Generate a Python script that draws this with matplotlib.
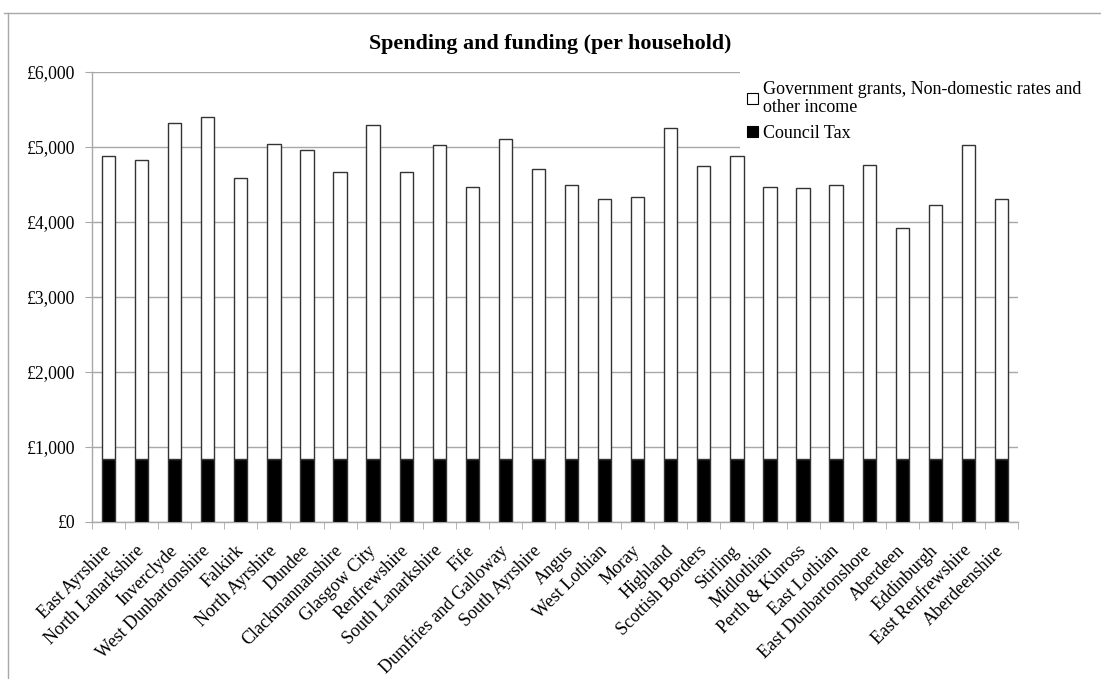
import matplotlib.pyplot as plt
from matplotlib.patches import Patch, Rectangle
from matplotlib.lines import Line2D
from matplotlib.ticker import FuncFormatter, FixedLocator

councils = ['East Ayrshire', 'North Lanarkshire', 'Inverclyde', 'West Dunbartonshire',
            'Falkirk', 'North Ayrshire', 'Dundee', 'Clackmannanshire', 'Glasgow City',
            'Renfrewshire', 'South Lanarkshire', 'Fife', 'Dumfries and Galloway',
            'South Ayrshire', 'Angus', 'West Lothian', 'Moray', 'Highland',
            'Scottish Borders', 'Stirling', 'Midlothian', 'Perth & Kinross',
            'East Lothian', 'East Dunbartonshore', 'Aberdeen', 'Eddinburgh',
            'East Renfrewshire', 'Aberdeenshire']

# total spending per household
total = [4880, 4827, 5324, 5396, 4591, 5040, 4960, 4662, 5293, 4662, 5031, 4462,
         5111, 4702, 4489, 4311, 4333, 5257, 4747, 4884, 4467, 4449, 4498, 4760,
         3916, 4227, 5031, 4302]
council_tax = [836] * len(councils)
grants = [t - c for t, c in zip(total, council_tax)]

plt.rcParams['font.family'] = ['Liberation Serif', 'DejaVu Serif']

fig = plt.figure(figsize=(11.01, 6.79), dpi=100)
ax = fig.add_axes([92 / 1101, 1 - 522 / 679, 926 / 1101, 450 / 679])

x = list(range(len(councils)))
ax.bar(x, council_tax, width=0.4, color='black', edgecolor='#333333', linewidth=1, zorder=3)
ax.bar(x, grants, width=0.4, bottom=council_tax, color='white', edgecolor='#333333',
       linewidth=1, zorder=3)

ax.set_xlim(-0.5, len(councils) - 0.5)
ax.set_ylim(0, 6000)
ax.set_yticks(range(0, 6001, 1000))
ax.yaxis.set_major_formatter(FuncFormatter(lambda v, p: '£{:,.0f}'.format(v)))
ax.set_axisbelow(True)
ax.grid(axis='y', color='#a8a8a8', linewidth=1)

ax.set_xticks(x)
ax.set_xticklabels(councils, rotation=45, ha='right', va='center', rotation_mode='anchor',
                   fontsize=13)
ax.tick_params(axis='x', length=0, pad=19)
ax.xaxis.set_minor_locator(FixedLocator([i - 0.5 for i in range(len(councils) + 1)]))
ax.tick_params(axis='x', which='minor', length=5, color='#a8a8a8', direction='out')
ax.tick_params(axis='y', length=5, color='#a8a8a8', labelsize=12.8, pad=7)

for s in ['top', 'right']:
    ax.spines[s].set_visible(False)
for s in ['left', 'bottom']:
    ax.spines[s].set_color('#a8a8a8')
    ax.spines[s].set_linewidth(1)

# white area behind legend hides gridlines
ax.add_patch(Rectangle((0.70, 0.82), 0.40, 0.21, transform=ax.transAxes,
                       facecolor='white', edgecolor='none', zorder=1, clip_on=False))

handles = [Patch(facecolor='white', edgecolor='black', linewidth=0.8),
           Patch(facecolor='black', edgecolor='black', linewidth=0.8)]
labels = ['Government grants, Non-domestic rates and\nother income', 'Council Tax']
leg = fig.legend(handles, labels, loc='upper left', bbox_to_anchor=(738 / 1101, 1 - 72 / 679),
                 frameon=False, fontsize=13, handlelength=0.6, handleheight=0.6,
                 handletextpad=0.3, labelspacing=0.5, borderpad=0)
leg.get_texts()[0].set_linespacing(1.05)

fig.suptitle('Spending and funding (per household)', fontsize=15.8, fontweight='bold',
             y=1 - 34 / 679, x=0.5)

# outer chart border
fig.add_artist(Line2D([4 / 1101, 1], [1 - 13 / 679, 1 - 13 / 679], color='#a8a8a8', linewidth=1))
fig.add_artist(Line2D([8 / 1101, 8 / 1101], [0, 1 - 13 / 679], color='#a8a8a8', linewidth=1))

fig.savefig('out.png', dpi=100)
